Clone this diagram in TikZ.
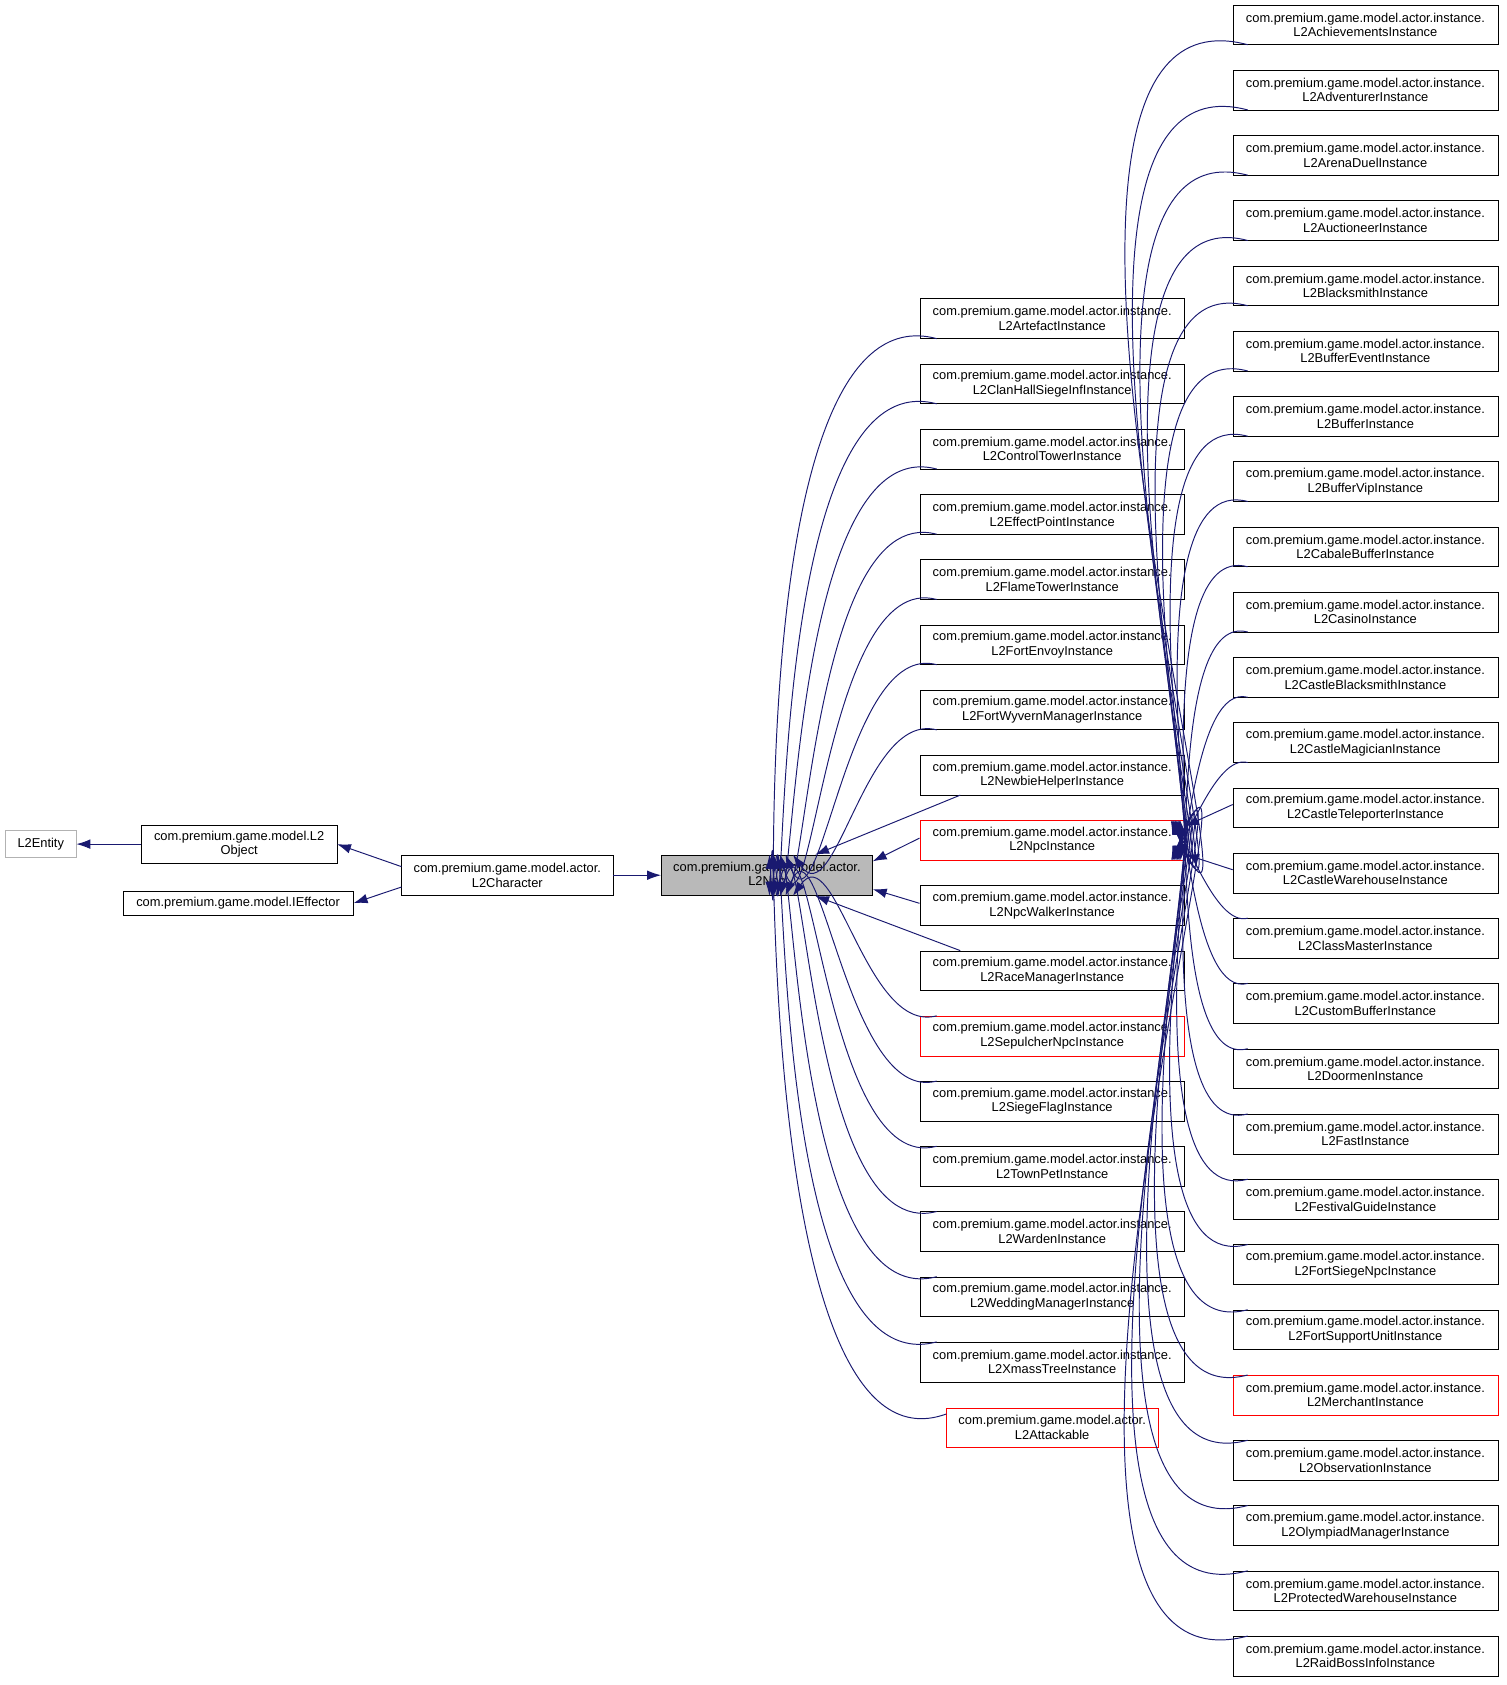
\documentclass[tikz,border=0pt]{standalone}
\usepackage{fontspec}
\setmainfont{Liberation Sans}
\usetikzlibrary{arrows.meta, positioning, calc}
\definecolor{edgeblue}{HTML}{191970}

\tikzset{
  cls/.style={draw=black, fill=white, align=center, inner sep=0pt, minimum width=247, minimum height=37, font=\fontsize{12}{13.5}\selectfont},
  redcls/.style={cls, draw=red},
  inh/.style={<-, draw=edgeblue, line width=0.9pt},
}

\begin{document}
\begin{tikzpicture}[x=1pt, y=-1pt, >={Latex[length=13pt,width=9pt]}]
  \useasboundingbox (0,0) rectangle (1405,1571);
  % left part
  \node[cls, draw=gray!60, minimum width=66, minimum height=25] (ent) at (38,787) {L2Entity};
  \node[cls, minimum width=182, minimum height=36] (obj) at (223,787) {com.premium.game.model.L2\\Object};
  \node[cls, minimum width=215, minimum height=23] (eff) at (222,842) {com.premium.game.model.IEffector};
  \node[cls, minimum width=197, minimum height=38] (chr) at (473,816) {com.premium.game.model.actor.\\L2Character};
  \node[cls, fill=gray!55, minimum width=197, minimum height=38] (npc) at (715,816) {com.premium.game.model.actor.\\L2Npc};

  \draw[inh] (ent) -- (obj);
  \draw[inh] (obj.east) -- (chr.west |- 0,808);
  \draw[inh] (eff.east) -- (chr.west |- 0,827);
  \draw[inh] (npc) -- (chr);

  % middle column
  \foreach \name/\st [count=\i] in {Artefact/cls, ClanHallSiegeInf/cls, ControlTower/cls, EffectPoint/cls,
      FlameTower/cls, FortEnvoy/cls, FortWyvernManager/cls, NewbieHelper/cls, Npc/redcls, NpcWalker/cls,
      RaceManager/cls, SepulcherNpc/redcls, SiegeFlag/cls, TownPet/cls, Warden/cls, WeddingManager/cls,
      XmassTree/cls}
    \node[\st] (m\i) at (981,{297+(\i-1)*60.8}) {com.premium.game.model.actor.instance.\\L2\name Instance};
  \node[redcls, minimum width=197] (atk) at (981,1331) {com.premium.game.model.actor.\\L2Attackable};

  \foreach \i/\dx/\a in {1/3/86, 2/5/84, 3/7/82, 4/10/78, 5/13/74, 6/18/68, 7/25/55}
    \draw[inh] ($(npc.north west)+(98+\dx,0)$) to[out=-\a, in=165] ($(m\i.south west)+(16,0)$);
  \draw[inh] ($(npc.north)+(45,0)$) -- ($(m8.south west)+(38,0)$);
  \draw[inh] ($(npc.east)+(0,-13)$) -- ($(m9.west)+(0,-2)$);
  \draw[inh] ($(npc.east)+(0,13)$) -- ($(m10.west)+(0,-2)$);
  \draw[inh] ($(npc.south)+(45,0)$) -- ($(m11.north west)+(38,0)$);
  \foreach \i/\dx/\a in {12/25/55, 13/18/68, 14/13/74, 15/10/78, 16/7/82, 17/5/84}
    \draw[inh] ($(npc.south west)+(98+\dx,0)$) to[out=\a, in=-165] ($(m\i.north west)+(16,0)$);
  \draw[inh] ($(npc.south west)+(101,0)$) to[out=87, in=-160] ($(atk.north west)+(0,6)$);

  % right column
  \foreach \name/\st [count=\i] in {Achievements/cls, Adventurer/cls, ArenaDuel/cls, Auctioneer/cls,
      Blacksmith/cls, BufferEvent/cls, Buffer/cls, BufferVip/cls, CabaleBuffer/cls, Casino/cls,
      CastleBlacksmith/cls, CastleMagician/cls, CastleTeleporter/cls, CastleWarehouse/cls,
      ClassMaster/cls, CustomBuffer/cls, Doormen/cls, Fast/cls, FestivalGuide/cls, FortSiegeNpc/cls,
      FortSupportUnit/cls, Merchant/redcls, Observation/cls, OlympiadManager/cls,
      ProtectedWarehouse/cls, RaidBossInfo/cls}
    \node[\st] (r\i) at (1273,{23+(\i-1)*60.84}) {com.premium.game.model.actor.instance.\\L2\name Instance};

  \foreach \i in {1,...,12}
    \draw[inh] ($(m9.north east)+({-14+\i*0.8},0)$) to[out={-64-\i*1.6}, in=165] ($(r\i.south west)+(14,0)$);
  \draw[inh] ($(m9.east)+(0,-13)$) -- ($(r13.west)+(0,-3)$);
  \draw[inh] ($(m9.east)+(0,13)$) -- ($(r14.west)+(0,-3)$);
  \foreach \i in {15,...,26}
    \draw[inh] ($(m9.south east)+({-4-(\i-15)*0.8},0)$) to[out={84-(\i-15)*1.6}, in=-165] ($(r\i.north west)+(14,0)$);
\end{tikzpicture}
\end{document}
